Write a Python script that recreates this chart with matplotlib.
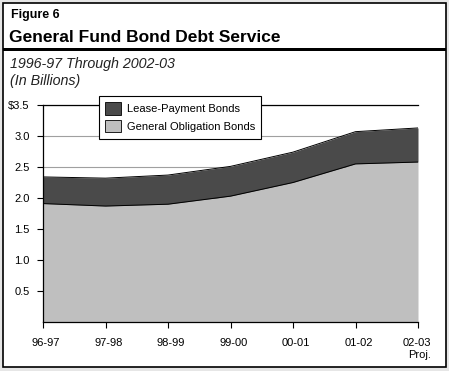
import numpy as np
import matplotlib
matplotlib.use("Agg")
import matplotlib.pyplot as plt
from matplotlib.patches import Rectangle, Patch
from matplotlib.transforms import ScaledTranslation

years = ["96-97", "97-98", "98-99", "99-00", "00-01", "01-02", "02-03\nProj."]
general_obligation = [1.91, 1.87, 1.90, 2.03, 2.25, 2.55, 2.58]
lease_payment = [0.43, 0.45, 0.47, 0.48, 0.49, 0.52, 0.55]
y_ticks = [0.5, 1.0, 1.5, 2.0, 2.5, 3.0, 3.5]
y_labels = ["0.5", "1.0", "1.5", "2.0", "2.5", "3.0", "$3.5"]

plt.rcParams['font.family'] = ['Liberation Sans', 'DejaVu Sans']

W, H = 449, 371
fig = plt.figure(figsize=(W / 100, H / 100), dpi=100)
fig.patch.set_facecolor("#e6e6e6")


def fx(px):
    return px / W


def fy(py):
    return 1 - py / H


# white card with black border
fig.add_artist(Rectangle((fx(3), fy(367)), fx(443), (364) / H, transform=fig.transFigure,
                         facecolor="white", edgecolor="black", linewidth=1.2, zorder=-10))
# thick rule under the title
fig.add_artist(Rectangle((fx(3), fy(51)), fx(443), 3 / H, transform=fig.transFigure,
                         facecolor="black", edgecolor="none", zorder=-5))

fig.text(fx(11), fy(15), "Figure 6", fontsize=9, fontweight="bold", va="center")
fig.text(fx(9), fy(38), "General Fund Bond Debt Service", fontsize=12.5, fontweight="bold", va="center")
fig.text(fx(10), fy(64), "1996-97 Through 2002-03", fontsize=10.3, style="italic", va="center", color="#222222")
fig.text(fx(10), fy(81), "(In Billions)", fontsize=10.3, style="italic", va="center", color="#222222")

ax = fig.add_axes([fx(43), fy(322), fx(418 - 43), (322 - 105) / H])
x = np.arange(len(years))
go = np.array(general_obligation)
total = go + np.array(lease_payment)

ax.fill_between(x, 0, go, color="#bfbfbf", linewidth=0, zorder=2)
ax.fill_between(x, go, total, color="#4a4a4a", linewidth=0, zorder=2)
ax.plot(x, go, color="black", linewidth=0.7, zorder=3)
ax.plot(x, total, color="black", linewidth=0.7, zorder=3)

ax.set_xlim(0, len(years) - 1)
ax.set_ylim(0, 3.5)
ax.set_yticks(y_ticks)
ax.set_yticklabels(y_labels)
ax.set_xticks(x)
ax.set_xticklabels(years, ha="center")
ax.yaxis.grid(True, color="#a0a0a0", linewidth=0.8, zorder=1)
ax.set_axisbelow(True)
ax.tick_params(axis="both", labelsize=8, length=4.5, width=0.8, color="black")
ax.tick_params(axis="x", pad=7)
ax.tick_params(axis="y", pad=5)
ax.spines["right"].set_visible(False)
for s in ("left", "bottom", "top"):
    ax.spines[s].set_linewidth(0.9)
ax.set_facecolor("none")

# nudge labels a little right like the source, last one right-aligned
for i, lab in enumerate(ax.get_xticklabels()):
    dx = 3 / 100
    if i == len(years) - 1:
        lab.set_ha("right")
        lab.set_multialignment("right")
        dx = 13 / 100
    lab.set_transform(lab.get_transform() + ScaledTranslation(dx, 0, fig.dpi_scale_trans))

handles = [Patch(facecolor="#4a4a4a", edgecolor="black", linewidth=0.6),
           Patch(facecolor="#bfbfbf", edgecolor="black", linewidth=0.6)]
leg = ax.legend(handles, ["Lease-Payment Bonds", "General Obligation Bonds"],
                loc="upper left", bbox_to_anchor=((99 - 43) / (418 - 43), 1 + 9 / 217),
                fontsize=8, frameon=True, fancybox=False, framealpha=1,
                edgecolor="black", borderpad=0.57, handlelength=1.44, handleheight=1.35,
                handletextpad=0.5, labelspacing=0.45, borderaxespad=0)
leg.get_frame().set_linewidth(0.8)

fig.savefig("out.png", dpi=100, facecolor=fig.get_facecolor())
